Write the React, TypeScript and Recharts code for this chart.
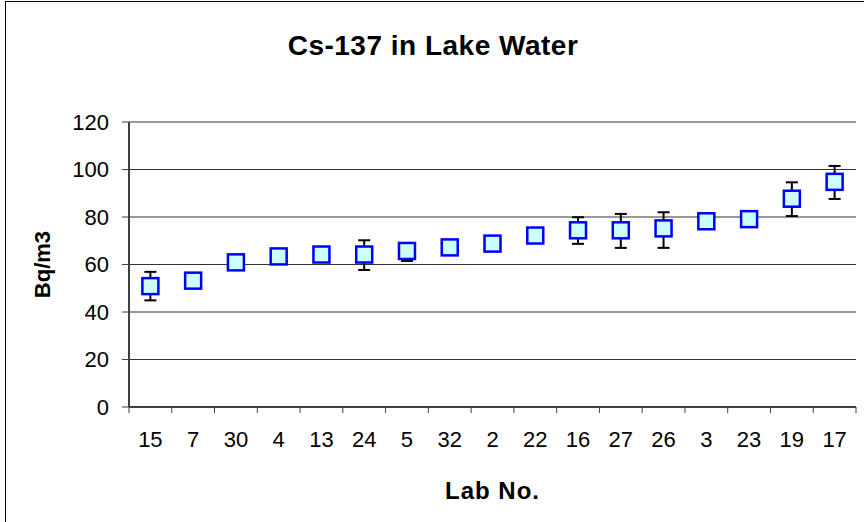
import React from "react";
import { ComposedChart, Scatter, ErrorBar, XAxis, YAxis, CartesianGrid } from "recharts";

// lab numbers in plotted order
const labs = ["15", "7", "30", "4", "13", "24", "5", "32", "2", "22", "16", "27", "26", "3", "23", "19", "17"];
// Cs-137 activity, Bq/m3
const values = [50.9, 53.2, 60.9, 63.4, 64.2, 64.2, 65.7, 67.2, 68.8, 72.2, 74.4, 74.4, 75.2, 78.2, 79.1, 87.7, 94.8];
// uncertainty below / above the value
const errLow = [6, 0, 0, 0, 0, 6.5, 4.2, 0, 0, 0, 5.7, 7.4, 8.2, 0, 0, 7.3, 7.2];
const errHigh = [6, 0, 0, 0, 0, 6, 1, 0, 0, 0, 5.5, 6.9, 6.8, 0, 0, 6.9, 6.7];
const yTicks = [0, 20, 40, 60, 80, 100, 120];

const data = labs.map((lab, i) => ({
  lab,
  value: values[i],
  err: [errLow[i], errHigh[i]],
}));

const FONT = "'Liberation Sans', Arial, sans-serif";

const Square = (props: any) => {
  const { cx, cy } = props;
  if (cx == null || cy == null) return null;
  return (
    <rect x={cx - 8} y={cy - 8} width={16} height={16} fill="#CCFFFF" stroke="#0000FF" strokeWidth={2.5} />
  );
};

// Excel-style category tick: mark at the band edge, label at the band centre
const LabTick = (props: any) => {
  const { x, y, payload, index, visibleTicksCount } = props;
  const half = payload?.offset ?? 21.4;
  const top = y - 8;
  const last = index === (visibleTicksCount ?? labs.length) - 1;
  return (
    <g>
      <line x1={x - half} y1={top} x2={x - half} y2={top + 6} stroke="#404040" strokeWidth={1} />
      {last && <line x1={x + half} y1={top} x2={x + half} y2={top + 6} stroke="#404040" strokeWidth={1} />}
      <text x={x} y={y + 32} textAnchor="middle" fontSize={22} fontFamily={FONT} fill="#000">
        {payload.value}
      </text>
    </g>
  );
};

export default function App() {
  return (
    <div style={{ position: "absolute", left: 0, top: 0, width: 864, height: 522, overflow: "hidden", background: "#fff" }}>
      <div
        style={{
          position: "absolute",
          left: 5,
          top: 1,
          width: 880,
          height: 540,
          border: "1px solid #000",
        }}
      />
      <div
        style={{
          position: "absolute",
          left: 5,
          top: 30,
          width: 856,
          textAlign: "center",
          fontFamily: FONT,
          fontWeight: "bold",
          fontSize: 28,
          letterSpacing: 0.5,
          color: "#000",
        }}
      >
        Cs-137 in Lake Water
      </div>
      <div style={{ position: "absolute", left: 0, top: 0 }}>
        <ComposedChart width={864} height={522} data={data} margin={{ top: 122, right: 8, bottom: 20, left: 0 }}>
          <CartesianGrid yAxisId="left" vertical={false} stroke="#333" strokeWidth={1} />
          <XAxis
            dataKey="lab"
            type="category"
            scale="band"
            height={95}
            tickLine={false}
            tickSize={6}
            tickMargin={2}
            axisLine={{ stroke: "#404040", strokeWidth: 2 }}
            tick={<LabTick />}
            interval={0}
            label={{
              value: "Lab No.",
              position: "insideBottom",
              offset: 3,
              style: { fontFamily: FONT, fontWeight: "bold", fontSize: 24, fill: "#000", letterSpacing: 1 },
            }}
          />
          <YAxis
            yAxisId="left"
            type="number"
            domain={[0, 120]}
            ticks={yTicks}
            width={129}
            tickSize={7}
            tickMargin={13}
            axisLine={{ stroke: "#404040", strokeWidth: 2 }}
            tickLine={{ stroke: "#404040" }}
            tick={{ fontSize: 22, fontFamily: FONT, fill: "#000" }}
            label={{
              value: "Bq/m3",
              angle: -90,
              position: "insideLeft",
              offset: 42,
              style: { textAnchor: "middle", fontFamily: FONT, fontWeight: "bold", fontSize: 22, fill: "#000" },
            }}
          />
          <YAxis
            yAxisId="right"
            orientation="right"
            width={0}
            tick={false}
            tickLine={false}
            axisLine={{ stroke: "#808080" }}
          />
          <Scatter yAxisId="left" dataKey="value" shape={<Square />} isAnimationActive={false}>
            <ErrorBar dataKey="err" direction="y" width={6} stroke="#000" strokeWidth={2} />
          </Scatter>
        </ComposedChart>
      </div>
    </div>
  );
}
